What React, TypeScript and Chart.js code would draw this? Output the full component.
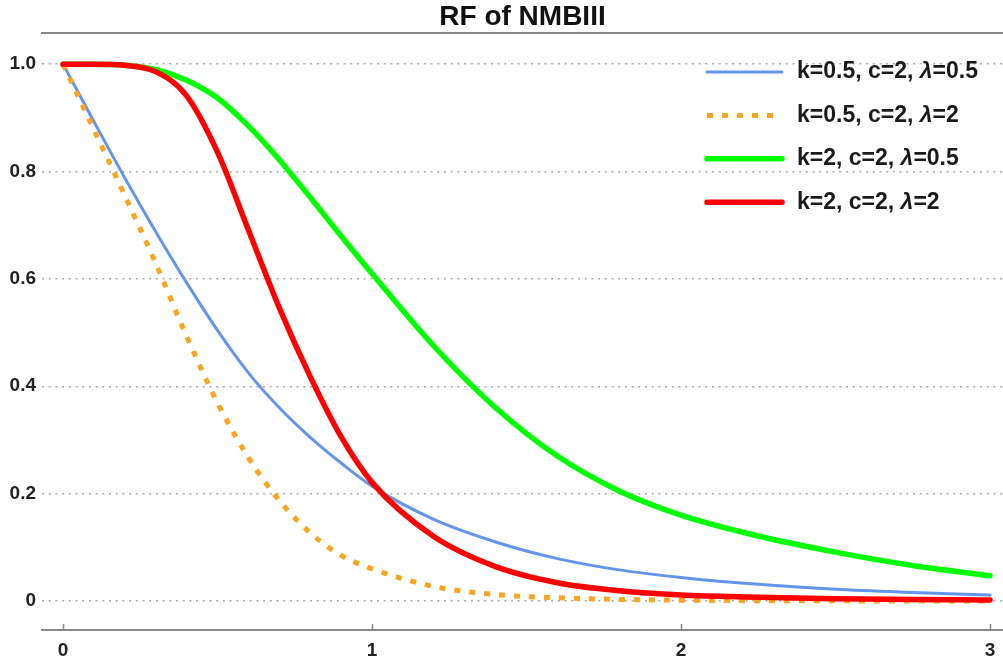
import React, { useEffect, useRef } from "react";
import { Chart, registerables } from "chart.js";

Chart.register(...registerables);

// ---- data ----
const xValues = [0, 0.1, 0.2, 0.3, 0.4, 0.5, 0.6, 0.7, 0.8, 0.9, 1.0, 1.2, 1.4, 1.6, 1.8, 2.0, 2.25, 2.5, 2.75, 3.0];
const blueValues = [1.0, 0.893, 0.788, 0.688, 0.593, 0.504, 0.425, 0.36, 0.305, 0.257, 0.214, 0.152, 0.11, 0.079, 0.058, 0.044, 0.031, 0.022, 0.016, 0.011];
const orangeValues = [1.0, 0.878, 0.755, 0.629, 0.493, 0.369, 0.267, 0.187, 0.127, 0.085, 0.06, 0.027, 0.012, 0.006, 0.003, 0.0015, 0.0006, 0.0003, 0.0001, 0.0];
const greenValues = [1.0, 1.0, 0.998, 0.99, 0.97, 0.937, 0.885, 0.822, 0.752, 0.68, 0.61, 0.475, 0.36, 0.27, 0.205, 0.16, 0.121, 0.091, 0.066, 0.047];
const redValues = [1.0, 1.0, 0.998, 0.986, 0.941, 0.836, 0.691, 0.546, 0.418, 0.306, 0.221, 0.12, 0.064, 0.034, 0.019, 0.011, 0.007, 0.004, 0.003, 0.002];

const seriesLabels = ["k=0.5, c=2, λ=0.5", "k=0.5, c=2, λ=2", "k=2, c=2, λ=0.5", "k=2, c=2, λ=2"];
const chartTitle = "RF of NMBIII";

const xTickValues = [0, 1, 2, 3];
const xTickLabels = ["0", "1", "2", "3"];
const yTickValues = [0, 0.2, 0.4, 0.6, 0.8, 1.0];
const yTickLabels = ["0", "0.2", "0.4", "0.6", "0.8", "1.0"];

const FONT = '"Liberation Sans", Arial, Helvetica, sans-serif';

const toPoints = (ys: number[]) => xValues.map((x, i) => ({ x, y: ys[i] }));

const insideLegend = {
  id: "insideLegend",
  afterDraw(chart: any) {
    const ctx = chart.ctx as CanvasRenderingContext2D;
    const area = chart.chartArea;
    const lineX0 = area.right - 296;
    const lineX1 = lineX0 + 75;
    const textX = lineX0 + 90;
    const rowY0 = area.top + 39;
    const rowGap = 43.4;
    ctx.save();
    chart.data.datasets.forEach((ds: any, i: number) => {
      const y = rowY0 + i * rowGap;
      ctx.beginPath();
      ctx.setLineDash(ds.borderDash || []);
      ctx.lineWidth = ds.borderWidth;
      ctx.strokeStyle = ds.borderColor;
      ctx.lineCap = ds.borderCapStyle || "butt";
      ctx.moveTo(lineX0, y);
      ctx.lineTo(lineX1, y);
      ctx.stroke();
      ctx.setLineDash([]);
      ctx.fillStyle = "#1a1a1a";
      ctx.textBaseline = "middle";
      ctx.textAlign = "left";
      const parts = String(ds.label).split("λ");
      let x = textX;
      parts.forEach((p, j) => {
        ctx.font = `bold 23px ${FONT}`;
        ctx.fillText(p, x, y);
        x += ctx.measureText(p).width;
        if (j < parts.length - 1) {
          ctx.font = `italic bold 23px ${FONT}`;
          ctx.fillText("λ", x, y);
          x += ctx.measureText("λ").width;
        }
      });
    });
    ctx.restore();
  },
};

export default function App() {
  const canvasRef = useRef<HTMLCanvasElement | null>(null);

  useEffect(() => {
    const canvas = canvasRef.current;
    if (!canvas) return;
    const chart = new Chart(canvas, {
      type: "line",
      data: {
        datasets: [
          {
            label: seriesLabels[0],
            data: toPoints(blueValues),
            borderColor: "#6495ED",
            borderWidth: 3,
            borderCapStyle: "round",
            order: 4,
          },
          {
            label: seriesLabels[1],
            data: toPoints(orangeValues),
            borderColor: "#FBA41F",
            borderWidth: 5,
            borderDash: [6, 9],
            borderCapStyle: "butt",
            order: 3,
          },
          {
            label: seriesLabels[2],
            data: toPoints(greenValues),
            borderColor: "#00FF00",
            borderWidth: 5.5,
            borderCapStyle: "round",
            order: 2,
          },
          {
            label: seriesLabels[3],
            data: toPoints(redValues),
            borderColor: "#FF0000",
            borderWidth: 5.5,
            borderCapStyle: "round",
            order: 1,
          },
        ] as any,
      },
      options: {
        animation: false,
        responsive: false,
        maintainAspectRatio: false,
        layout: { padding: 0 },
        elements: {
          point: { radius: 0, hoverRadius: 0 },
          line: { cubicInterpolationMode: "monotone", borderJoinStyle: "round", fill: false },
        },
        plugins: {
          legend: { display: false },
          tooltip: { enabled: false },
          title: { display: false },
        },
        scales: {
          x: {
            type: "linear",
            position: "bottom",
            min: -0.068,
            max: 3.042,
            afterBuildTicks: (scale: any) => {
              scale.ticks = xTickValues.map((v) => ({ value: v }));
            },
            afterFit: (scale: any) => {
              scale.height = 32;
              scale.paddingLeft = 0;
              scale.paddingRight = 0;
            },
            ticks: {
              callback: (v: any) => {
                const i = xTickValues.indexOf(Number(v));
                return i >= 0 ? xTickLabels[i] : "";
              },
              font: { family: FONT, size: 19, weight: "bold" },
              color: "#222",
              padding: 15,
              maxRotation: 0,
              autoSkip: false,
            },
            grid: {
              display: true,
              drawOnChartArea: false,
              drawTicks: true,
              tickLength: -6,
              tickColor: "#888",
              tickWidth: 1.5,
            },
            border: { display: true, color: "#888", width: 2 },
          },
          x2: {
            type: "linear",
            position: "top",
            min: 0,
            max: 1,
            display: true,
            ticks: { display: false },
            grid: { display: false, drawTicks: false },
            border: { display: true, color: "#888", width: 2 },
            title: {
              display: true,
              text: chartTitle,
              color: "#111",
              font: { family: FONT, size: 28, weight: "bold", lineHeight: 1 },
              padding: { top: 3, bottom: 2 },
            },
            afterFit: (scale: any) => {
              scale.height = 33;
              scale.paddingLeft = 0;
              scale.paddingRight = 0;
            },
          },
          y: {
            type: "linear",
            min: -0.054,
            max: 1.058,
            afterBuildTicks: (scale: any) => {
              scale.ticks = yTickValues.map((v) => ({ value: v }));
            },
            afterFit: (scale: any) => {
              scale.width = 42;
              scale.paddingTop = 0;
              scale.paddingBottom = 0;
            },
            ticks: {
              callback: (v: any) => {
                const i = yTickValues.findIndex((t) => Math.abs(t - Number(v)) < 1e-9);
                return i >= 0 ? yTickLabels[i] : "";
              },
              font: { family: FONT, size: 19, weight: "bold" },
              color: "#222",
              padding: 6,
            },
            grid: {
              color: "#aaaaaa",
              lineWidth: 1.5,
              drawTicks: false,
            },
            border: { display: false, dash: [2, 4.7] },
          },
        },
      } as any,
      plugins: [insideLegend],
    });
    return () => chart.destroy();
  }, []);

  return (
    <div style={{ position: "absolute", left: 0, top: 0, width: 1003, height: 662, background: "#fff" }}>
      <canvas ref={canvasRef} width={1003} height={662} style={{ display: "block" }} />
    </div>
  );
}
